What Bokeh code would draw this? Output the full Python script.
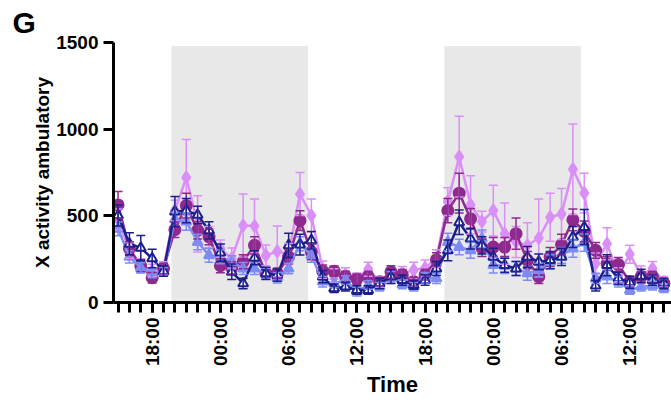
import math
from bokeh.plotting import figure
from bokeh.models import (ColumnDataSource, Range1d, FixedTicker, BoxAnnotation,
                          Whisker, TeeHead, Title)
from bokeh.embed import file_html
from bokeh.resources import INLINE

# ---- data (hours since 00:00 of day 1) ----
hours = list(range(15, 64))

circle_mean = [563, 311, 212, 143, 196, 420, 559, 416, 378, 212, 200, 235, 330, 168, 168, 263,
               473, 292, 181, 181, 150, 135, 149, 120, 177, 160, 120, 160, 247, 530, 631, 483,
               315, 320, 320, 397, 244, 149, 263, 334, 477, 410, 301, 225, 219, 120, 149, 149, 110]
circle_sem = [78, 40, 35, 30, 30, 45, 71, 50, 45, 40, 35, 40, 50, 30, 30, 40,
              57, 45, 35, 30, 30, 30, 30, 25, 35, 30, 25, 30, 40, 70, 115, 60,
              50, 55, 55, 90, 50, 40, 55, 60, 63, 60, 45, 40, 40, 30, 30, 30, 25]

violet_mean = [480, 300, 212, 185, 200, 530, 721, 454, 378, 311, 254, 444, 441, 272, 295, 280,
               626, 502, 190, 155, 160, 135, 192, 120, 149, 168, 187, 200, 254, 582, 841, 563,
               467, 530, 397, 349, 330, 372, 492, 511, 769, 631, 225, 339, 160, 278, 160, 196, 120]
violet_sem = [60, 45, 40, 35, 35, 60, 219, 162, 60, 50, 60, 182, 156, 60, 146, 60,
              124, 95, 50, 40, 40, 35, 40, 30, 40, 40, 45, 45, 50, 80, 233, 168,
              60, 147, 177, 90, 130, 225, 139, 147, 261, 115, 60, 92, 40, 52, 50, 40, 30]

navy_mean = [502, 339, 315, 254, 181, 525, 530, 505, 416, 288, 177, 110, 258, 168, 158, 330,
             334, 359, 149, 82, 91, 72, 72, 110, 149, 129, 101, 129, 196, 301, 463, 368,
             330, 263, 215, 196, 263, 235, 244, 263, 378, 435, 97, 215, 139, 116, 153, 129, 110]
navy_sem = [60, 63, 72, 53, 30, 87, 70, 50, 50, 50, 45, 30, 40, 35, 35, 70,
            60, 50, 35, 25, 25, 25, 25, 30, 40, 30, 25, 30, 40, 60, 70, 60,
            50, 50, 40, 40, 60, 45, 50, 50, 60, 101, 30, 60, 35, 35, 39, 30, 30]

blue_mean = [425, 263, 200, 168, 177, 480, 467, 349, 272, 263, 235, 196, 196, 168, 143, 196,
             339, 272, 120, 110, 130, 63, 101, 91, 149, 105, 91, 143, 139, 349, 320, 301,
             368, 215, 212, 196, 168, 187, 235, 272, 311, 345, 139, 149, 120, 72, 91, 97, 82]
blue_sem = [40, 35, 30, 25, 25, 40, 50, 45, 40, 40, 35, 35, 35, 30, 30, 30,
            40, 40, 30, 25, 25, 25, 25, 25, 30, 25, 25, 30, 30, 50, 45, 45,
            50, 45, 45, 40, 40, 40, 40, 45, 50, 50, 30, 40, 30, 25, 25, 25, 25]

dark_phases = [(19.7, 31.7), (43.7, 55.7)]
tick_hours = [18, 24, 30, 36, 42, 48, 54, 60]
tick_labels = ["18:00", "00:00", "06:00", "12:00", "18:00", "00:00", "06:00", "12:00"]
y_ticks = [0, 500, 1000, 1500]

FONT = "Liberation Sans"

p = figure(width=671, height=400, output_backend="svg", toolbar_location=None,
           x_range=Range1d(14.6, 63.67), y_range=Range1d(0, 1500),
           min_border_left=113, min_border_right=0, min_border_top=42, min_border_bottom=96)
p.outline_line_color = None
p.xgrid.visible = False
p.ygrid.visible = False
p.background_fill_color = "white"

p.add_layout(Title(text="G", align="left", offset=-101, standoff=7,
                   text_font=FONT, text_font_style="bold", text_font_size="30px",
                   text_color="black"), "above")

for a, b in dark_phases:
    p.add_layout(BoxAnnotation(left=a, right=b, bottom=0, top=1480, fill_color="#E8E8E8",
                               fill_alpha=1.0, line_color=None, level="underlay"))

series = [
    (violet_mean, violet_sem, "#DA8EF7", "diamond", 12, "#DA8EF7"),
    (circle_mean, circle_sem, "#8E2A8E", "circle", 11, "#8E2A8E"),
    (blue_mean, blue_sem, "#7D8BF3", "triangle", 10, "#7D8BF3"),
    (navy_mean, navy_sem, "#1B1F8A", "triangle", 10, "white"),
]

for mean, sem, color, marker, size, fill in series:
    src = ColumnDataSource(dict(t=hours, m=mean,
                                lo=[m - s for m, s in zip(mean, sem)],
                                hi=[m + s for m, s in zip(mean, sem)]))
    w = Whisker(source=src, base="t", lower="lo", upper="hi", dimension="height",
                line_color=color, line_width=1.5, level="glyph",
                upper_head=TeeHead(size=9, line_color=color, line_width=1.5),
                lower_head=TeeHead(size=9, line_color=color, line_width=1.5))
    p.add_layout(w)
    p.line("t", "m", source=src, line_color=color, line_width=2.5)
    p.scatter("t", "m", source=src, marker=marker, size=size, fill_color=fill,
              line_color=color, line_width=2)

# axes
xa = p.xaxis[0]
xa.ticker = FixedTicker(ticks=tick_hours, minor_ticks=hours)
xa.major_label_overrides = {h: lab for h, lab in zip(tick_hours, tick_labels)}
xa.major_label_orientation = math.pi / 2
xa.axis_label = "Time"

ya = p.yaxis[0]
ya.ticker = FixedTicker(ticks=y_ticks)
ya.axis_label = "X activity ambulatory"

for ax in (xa, ya):
    ax.axis_line_width = 3
    ax.axis_line_color = "black"
    ax.major_tick_line_width = 3
    ax.major_tick_out = 10
    ax.major_tick_in = 0
    ax.minor_tick_line_width = 3
    ax.minor_tick_out = 10
    ax.minor_tick_in = 0
    ax.major_label_text_font = FONT
    ax.major_label_text_font_style = "bold"
    ax.major_label_text_font_size = "19px"
    ax.major_label_text_color = "black"
    ax.axis_label_text_font = FONT
    ax.axis_label_text_font_style = "bold"
    ax.axis_label_text_color = "black"
    ax.major_label_standoff = 5
ya.minor_tick_line_color = None
xa.axis_label_text_font_size = "22px"
ya.axis_label_text_font_size = "19px"
xa.axis_label_standoff = 3
ya.axis_label_standoff = 0

open("out.html", "w").write(file_html(p, INLINE))
